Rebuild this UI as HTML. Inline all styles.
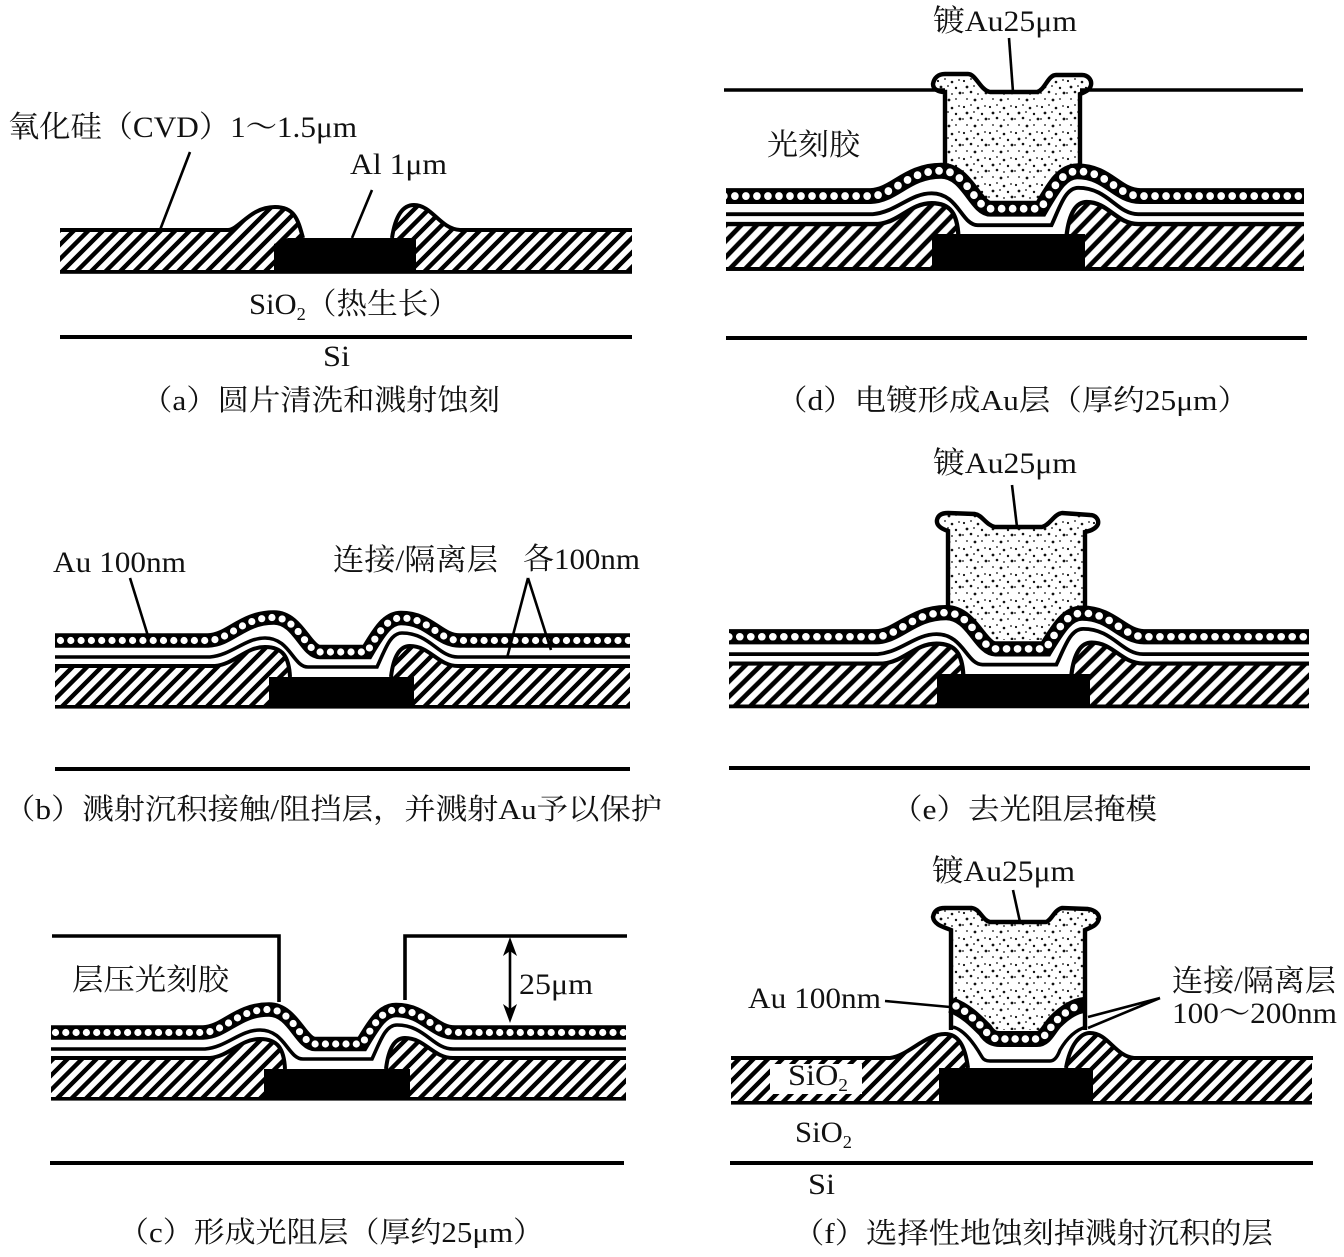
<!DOCTYPE html>
<html>
<head>
<meta charset="utf-8">
<style>
html,body{margin:0;padding:0;background:#fff;}
svg{display:block;}
text{font-family:"Liberation Serif","Noto Serif CJK SC",serif;font-size:30px;fill:#111;}
text.cap{font-size:29px;}
</style>
</head>
<body>
<svg xmlns="http://www.w3.org/2000/svg" width="1344" height="1257" viewBox="0 0 1344 1257">
<defs>
<pattern id="hatch" patternUnits="userSpaceOnUse" width="14.5" height="14.5">
<path d="M-3 3L3 -3M-1 15.5L15.5 -1M11.5 17.5L17.5 11.5" stroke="#000" stroke-width="4.4" fill="none"/>
</pattern>
<pattern id="stip" patternUnits="userSpaceOnUse" width="26" height="26">
<g fill="#111">
<circle cx="2" cy="3" r="1.1"/><circle cx="9" cy="1" r="0.9"/><circle cx="16" cy="4" r="1.3"/><circle cx="23" cy="2" r="0.9"/>
<circle cx="5" cy="9" r="1.4"/><circle cx="12" cy="8" r="0.9"/><circle cx="20" cy="10" r="1.2"/>
<circle cx="1" cy="15" r="0.9"/><circle cx="9" cy="14" r="1.3"/><circle cx="16" cy="16" r="0.9"/><circle cx="24" cy="15" r="1.4"/>
<circle cx="5" cy="21" r="0.9"/><circle cx="13" cy="22" r="1.4"/><circle cx="20" cy="21" r="0.9"/>
</g>
</pattern>
<clipPath id="cb"><rect x="55" y="560" width="575" height="160"/></clipPath>
<clipPath id="cc"><rect x="51" y="950" width="575" height="160"/></clipPath>
<clipPath id="cd"><rect x="726" y="120" width="578" height="160"/></clipPath>
<clipPath id="ce"><rect x="729" y="560" width="580" height="160"/></clipPath>
<clipPath id="cf"><rect x="731" y="1000" width="581" height="110"/></clipPath>
<g id="stack">
<path d="M-300 666L215 666C235 664 245 647 265 647C283 647 289 657 290 677L391 677C393 660 398 646 410 646C430 646 438 666 458 666L1000 666L1000 706L-300 706Z" fill="url(#hatch)"/>
<path d="M-300 666L215 666C235 664 245 647 265 647C283 647 289 657 290 677M391 677C393 660 398 646 410 646C430 646 438 666 458 666L1000 666" fill="none" stroke="#000" stroke-width="4"/>
<rect x="-300" y="705" width="1300" height="3.6" fill="#000"/>
<path d="M-300 657L210 657C232 655 245 638 265 638C290 638 293 667 308 667L377 667C385 650 390 633 402 633C430 633 438 657 458 657L1000 657" fill="none" stroke="#000" stroke-width="3.6"/>
<path d="M-300 640.5L208 640.5C230 640 242 617.5 274 617.5C298 617.5 306 652 320 652L367 652C380 630 388 618 401 618C430 618 438 640.5 460 640.5L1000 640.5" fill="none" stroke="#000" stroke-width="14.5"/>
<path d="M-300 640.5L208 640.5C230 640 242 617.5 274 617.5C298 617.5 306 652 320 652L367 652C380 630 388 618 401 618C430 618 438 640.5 460 640.5L1000 640.5" fill="none" stroke="#fff" stroke-width="7.2" stroke-linecap="round" stroke-dasharray="0 10.3"/>
</g>
</defs>
<rect width="1344" height="1257" fill="#fff"/>

<!-- Panel a -->
<path d="M60 229L228 229C240 229 250 207 275 207C295 207 298 220 303 238L392 238C395 218 402 205 414 205C432 205 440 229 460 229L632 229L632 271L60 271Z" fill="url(#hatch)"/>
<path d="M60 230L228 230C240 229 250 207 275 207C295 207 298 220 303 238M392 238C395 218 402 205 414 205C432 205 440 229 460 230L632 230" fill="none" stroke="#000" stroke-width="4"/>
<rect x="60" y="270" width="572" height="3.8" fill="#000"/>
<path d="M274 271L274 244L288 238L392 238L416 238L416 271Z" fill="#000"/>
<rect x="60" y="335" width="572" height="4" fill="#000"/>
<path d="M190 152L160 230M372 190L352 238" stroke="#000" stroke-width="2.6" fill="none"/>
<text x="8" y="137" textLength="349" lengthAdjust="spacingAndGlyphs">氧化硅（CVD）1～1.5μm</text>
<text x="350" y="174" textLength="97" lengthAdjust="spacingAndGlyphs">Al 1μm</text>
<text x="249" y="314" textLength="210" lengthAdjust="spacingAndGlyphs">SiO<tspan font-size="18" dy="6">2</tspan><tspan dy="-6">（热生长）</tspan></text>
<text x="323" y="366" textLength="27" lengthAdjust="spacingAndGlyphs">Si</text>
<text class="cap" x="141" y="410" textLength="359" lengthAdjust="spacingAndGlyphs">（a）圆片清洗和溅射蚀刻</text>

<!-- Panel b -->
<g clip-path="url(#cb)"><use href="#stack"/></g>
<rect x="269" y="677" width="145" height="30" fill="#000"/>
<rect x="55" y="767" width="575" height="4" fill="#000"/>
<path d="M130 578L148 636M528 578L507 658M528 578L551 650" stroke="#000" stroke-width="2.6" fill="none"/>
<text x="53" y="572" textLength="133" lengthAdjust="spacingAndGlyphs">Au 100nm</text>
<text x="333" y="570" textLength="165" lengthAdjust="spacingAndGlyphs">连接/隔离层</text>
<text x="523" y="569" textLength="117" lengthAdjust="spacingAndGlyphs">各100nm</text>
<text class="cap" x="4" y="819" textLength="658" lengthAdjust="spacingAndGlyphs">（b）溅射沉积接触/阻挡层，并溅射Au予以保护</text>

<!-- Panel c -->
<g clip-path="url(#cc)"><use href="#stack" transform="translate(-5 392)"/></g>
<rect x="264" y="1069" width="146" height="30" fill="#000"/>
<path d="M52 936L279 936L279 1002M405 1000L405 936L627 936" fill="none" stroke="#000" stroke-width="3.6"/>
<rect x="50" y="1161" width="574" height="4" fill="#000"/>
<path d="M510 946L510 1014" stroke="#000" stroke-width="2.6"/>
<path d="M510 937L503 956L510 951L517 956Z M510 1023L503 1004L510 1009L517 1004Z" fill="#000"/>
<text x="72" y="990" textLength="157" lengthAdjust="spacingAndGlyphs">层压光刻胶</text>
<text x="519" y="994" textLength="74" lengthAdjust="spacingAndGlyphs">25μm</text>
<text class="cap" x="118" y="1242" textLength="426" lengthAdjust="spacingAndGlyphs">（c）形成光阻层（厚约25μm）</text>

<!-- Panel d -->
<path d="M724 90L945 90M1080 90L1303 90" stroke="#000" stroke-width="3.4" fill="none"/>
<path d="M945 92C938 92 933 89 933 84C934 78 938 74 945 74L968 74C976 74 980 90 990 92L1037 92C1045 90 1048 75 1056 75L1082 75C1088 75 1092 80 1091 85C1090 90 1085 92 1080 94L1080 168L1060 175L1037 205L990 205L965 175L945 168Z" fill="url(#stip)"/>
<path d="M945 170L945 92C938 92 933 89 933 84C934 78 938 74 945 74L968 74C976 74 980 90 990 92L1037 92C1045 90 1048 75 1056 75L1082 75C1088 75 1092 80 1091 85C1090 90 1085 92 1080 94L1080 170" fill="none" stroke="#000" stroke-width="4.4"/>
<g clip-path="url(#cd)"><use href="#stack" transform="translate(648.1 -508.5) scale(1.07 1.1)"/></g>
<rect x="932" y="234" width="153" height="35" fill="#000"/>
<rect x="726" y="336" width="581" height="4" fill="#000"/>
<path d="M1009 38L1013 92" stroke="#000" stroke-width="2.6"/>
<text x="933" y="31" textLength="144" lengthAdjust="spacingAndGlyphs">镀Au25μm</text>
<text x="767" y="155" textLength="93" lengthAdjust="spacingAndGlyphs">光刻胶</text>
<text class="cap" x="776" y="410" textLength="473" lengthAdjust="spacingAndGlyphs">（d）电镀形成Au层（厚约25μm）</text>

<!-- Panel e -->
<path d="M948 531C942 529 936 526 937 520C938 515 942 513 948 513L975 514C982 515 986 525 995 527L1042 527C1050 525 1054 514 1062 513L1090 515C1096 515 1099 520 1098 524C1096 529 1090 531 1085 532L1085 607L1065 615L1042 640L995 640L970 615L948 607Z" fill="url(#stip)"/>
<path d="M948 607L948 531C942 529 936 526 937 520C938 515 942 513 948 513L975 514C982 515 986 525 995 527L1042 527C1050 525 1054 514 1062 513L1090 515C1096 515 1099 520 1098 524C1096 529 1090 531 1085 532L1085 607" fill="none" stroke="#000" stroke-width="4.4"/>
<g clip-path="url(#ce)"><use href="#stack" transform="translate(653 -35.75) scale(1.07 1.05)"/></g>
<rect x="937" y="674" width="153" height="31" fill="#000"/>
<rect x="729" y="766" width="581" height="4" fill="#000"/>
<path d="M1012 485L1017 527" stroke="#000" stroke-width="2.6"/>
<text x="933" y="473" textLength="144" lengthAdjust="spacingAndGlyphs">镀Au25μm</text>
<text class="cap" x="891" y="819" textLength="266" lengthAdjust="spacingAndGlyphs">（e）去光阻层掩模</text>

<!-- Panel f -->
<path d="M700 1058L890 1058C908 1056 925 1034 945 1034C958 1034 965 1045 968 1068L1066 1068C1070 1045 1080 1033 1090 1033C1108 1033 1115 1056 1134 1058L1313 1058L1313 1102L700 1102Z" fill="url(#hatch)" clip-path="url(#cf)"/>
<path d="M731 1058L890 1058C908 1056 925 1034 945 1034C958 1034 965 1045 968 1068M1066 1068C1070 1045 1080 1033 1090 1033C1108 1033 1115 1056 1134 1058L1313 1058" fill="none" stroke="#000" stroke-width="4"/>
<rect x="731" y="1101" width="581" height="3.6" fill="#000"/>
<rect x="939" y="1068" width="154" height="33" fill="#000"/>
<rect x="770" y="1064" width="92" height="30" fill="#fff"/>
<path d="M951 997L951 930C944 927 934 925 933 917C934 911 938 908 945 908L972 908C980 909 982 920 990 922L1046 922C1052 920 1054 910 1062 908L1088 909C1095 910 1099 914 1099 918C1098 925 1092 927 1085 930L1085 997L1056 1010L1040 1030L995 1030L980 1010Z" fill="url(#stip)"/>
<path d="M951 1030L951 930C944 927 934 925 933 917C934 911 938 908 945 908L972 908C980 909 982 920 990 922L1046 922C1052 920 1054 910 1062 908L1088 909C1095 910 1099 914 1099 918C1098 925 1092 927 1085 930L1085 1030" fill="none" stroke="#000" stroke-width="4.4"/>
<path d="M951 1005C965 1010 975 1020 985 1030C990 1038 995 1039 1000 1039L1037 1039C1045 1039 1048 1030 1055 1022C1065 1012 1075 1006 1084 1005" fill="none" stroke="#000" stroke-width="16"/>
<path d="M956 1006C965 1010 975 1020 985 1030C990 1038 995 1039 1000 1039L1037 1039C1045 1039 1048 1030 1055 1022C1065 1012 1075 1006 1081 1005" fill="none" stroke="#fff" stroke-width="7.5" stroke-linecap="round" stroke-dasharray="0 10.2"/>
<path d="M953 1027C965 1030 975 1045 982 1057Q984 1061 990 1061L1050 1061Q1056 1061 1060 1050C1067 1038 1075 1030 1086 1027" fill="none" stroke="#000" stroke-width="3.4"/>
<rect x="730" y="1161" width="583" height="4" fill="#000"/>
<path d="M1013 890L1020 922M885 1001L950 1007M1160 998L1088 1017M1160 998L1088 1028" stroke="#000" stroke-width="2.6" fill="none"/>
<text x="932" y="881" textLength="143" lengthAdjust="spacingAndGlyphs">镀Au25μm</text>
<text x="748" y="1008" textLength="133" lengthAdjust="spacingAndGlyphs">Au 100nm</text>
<text x="1172" y="991" textLength="164" lengthAdjust="spacingAndGlyphs">连接/隔离层</text>
<text x="1172" y="1023" textLength="165" lengthAdjust="spacingAndGlyphs">100～200nm</text>
<text x="788" y="1085" textLength="60" lengthAdjust="spacingAndGlyphs">SiO<tspan font-size="18" dy="6">2</tspan></text>
<text x="795" y="1142" textLength="57" lengthAdjust="spacingAndGlyphs">SiO<tspan font-size="18" dy="6">2</tspan></text>
<text x="808" y="1194" textLength="27" lengthAdjust="spacingAndGlyphs">Si</text>
<text class="cap" x="793" y="1243" textLength="480" lengthAdjust="spacingAndGlyphs">（f）选择性地蚀刻掉溅射沉积的层</text>
</svg>
</body>
</html>
